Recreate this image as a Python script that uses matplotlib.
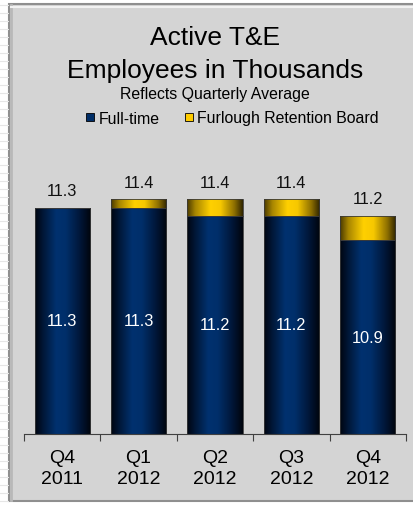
import numpy as np
import matplotlib
matplotlib.use("Agg")
import matplotlib.pyplot as plt
from matplotlib.colors import LinearSegmentedColormap
from matplotlib.patches import Rectangle
from matplotlib.lines import Line2D

plt.rcParams['font.family'] = ['Liberation Sans', 'DejaVu Sans']

# data (thousands)
quarters = ["Q4\n2011", "Q1\n2012", "Q2\n2012", "Q3\n2012", "Q4\n2012"]
full_time = [11.3, 11.3, 11.2, 11.2, 10.9]
furlough = [0.0, 0.1, 0.2, 0.2, 0.3]
totals = [11.3, 11.4, 11.4, 11.4, 11.2]

W, H = 414, 506
fig = plt.figure(figsize=(W / 100, H / 100), dpi=100)
fig.patch.set_facecolor("white")

# faint stripes on the left margin
for yy in range(6, H, 8):
    fig.add_artist(Line2D([0, 8 / W], [1 - yy / H, 1 - yy / H], color="#e6e6e6", lw=0.8))

# grey panel with bevelled edge
fig.add_artist(Rectangle((9 / W, 4 / H), 1, 1 - 9 / H, facecolor="#d4d4d4",
                         edgecolor="#8f8f8f", lw=1.5, transform=fig.transFigure, zorder=0))
fig.add_artist(Line2D([11.5 / W, 11.5 / W], [5 / H, 1 - 6 / H], color="#b8b8b8", lw=2))
fig.add_artist(Line2D([11 / W, 1], [1 - 7.5 / H, 1 - 7.5 / H], color="#f2f2f2", lw=1.5))

ax = fig.add_axes([24 / W, 71 / H, 382 / W, 255 / H])
ax.set_facecolor("none")

ymin, ymax = 8.54, 11.65
x = np.arange(len(quarters)) + 0.5
bw = 0.72

navy = LinearSegmentedColormap.from_list("navy", [
    (0.0, "#000610"), (0.15, "#001738"), (0.38, "#00316f"), (0.55, "#002f6a"),
    (0.8, "#00173a"), (1.0, "#00040c")])
gold = LinearSegmentedColormap.from_list("gold", [
    (0.0, "#4a3a00"), (0.15, "#a88600"), (0.42, "#ffd000"), (0.6, "#f7c800"),
    (0.85, "#8c6e00"), (1.0, "#2e2400")])
grad = np.linspace(0, 1, 256).reshape(1, -1)

ft_bars = ax.bar(x, np.array(full_time) - ymin, bw, bottom=ymin, color="none",
                 edgecolor="#3a3a3a", lw=0.6, zorder=3)
frb_bars = ax.bar(x, furlough, bw, bottom=full_time, color="none",
                  edgecolor="#3a3a3a", lw=0.6, zorder=3)

for bars, cmap in [(ft_bars, navy), (frb_bars, gold)]:
    for b in bars:
        if b.get_height() <= 0:
            continue
        x0, y0 = b.get_x(), b.get_y()
        im = ax.imshow(grad, cmap=cmap, aspect="auto", zorder=2,
                       extent=[x0, x0 + b.get_width(), y0, y0 + b.get_height()])
        im.set_clip_path(b)

# value labels
for xi, ft, tot in zip(x, full_time, totals):
    ax.text(xi, (ymin + ft) / 2, f"{ft:.1f}", color="white", ha="center",
            va="center", fontsize=11.8, zorder=4)
    ax.annotate(f"{tot:.1f}", (xi, tot), xytext=(0, 12.5), textcoords="offset points",
                ha="center", va="center", fontsize=11.8, color="#111111")

ax.set_xlim(0, len(quarters))
ax.set_ylim(ymin, ymax)
for s in ["top", "right", "left"]:
    ax.spines[s].set_visible(False)
ax.spines["bottom"].set_color("#404040")
ax.set_yticks([])
ax.set_xticks(np.arange(len(quarters) + 1))
ax.set_xticklabels([])
ax.set_xticks(x, minor=True)
ax.set_xticklabels(quarters, minor=True, fontsize=14, linespacing=1.25)
ax.tick_params(axis="x", which="major", length=5, color="#404040", width=0.8)
ax.tick_params(axis="x", which="minor", length=0, pad=11)

# title block
cx = 215 / W
fig.text(cx, 1 - 38 / H, "Active T&E", ha="center", va="center", fontsize=19)
fig.text(cx, 1 - 71 / H, "Employees in Thousands", ha="center", va="center", fontsize=19)
fig.text(cx, 1 - 94 / H, "Reflects Quarterly Average", ha="center", va="center", fontsize=11.4)

handles = [Line2D([], [], marker="s", ls="none", markersize=5.5, markerfacecolor="#002d66",
                  markeredgecolor="black", markeredgewidth=0.6),
           Line2D([], [], marker="s", ls="none", markersize=5.5, markerfacecolor="#ffcc00",
                  markeredgecolor="black", markeredgewidth=0.6)]
fig.legend(handles, ["Full-time", "Furlough Retention Board"], ncol=2, loc="center",
           bbox_to_anchor=(232 / W, 1 - 119 / H), frameon=False, fontsize=11.4,
           handlelength=0.6, handletextpad=0.25, columnspacing=1.55)

fig.savefig("out.png", dpi=100)
